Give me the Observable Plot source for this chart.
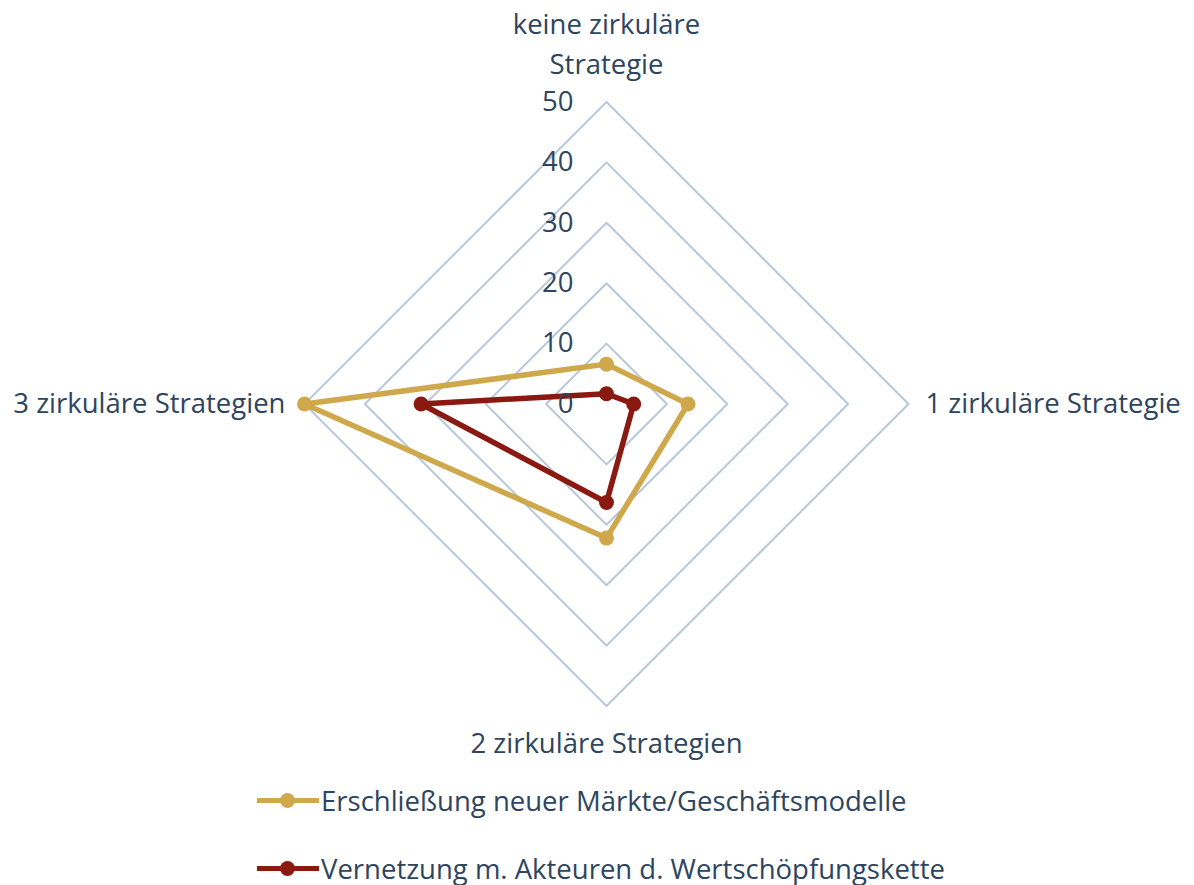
<!DOCTYPE html>
<html>
<head>
<meta charset="utf-8">
<script src="https://cdn.jsdelivr.net/npm/d3@7"></script>
<script src="https://cdn.jsdelivr.net/npm/@observablehq/plot@0.6"></script>
<style>
  body { margin: 0; background: #fff; font-family: "Open Sans", Lato, sans-serif; }
  #chart svg { display: block; }
  #legend { width: 1194px; padding-top: 13px; }
  .item { display: flex; align-items: center; height: 34px; margin-bottom: 34px; margin-left: 257px; font-size: 27.5px; color: #2d4560; white-space: nowrap; }
  .sw { position: relative; flex: none; width: 62px; height: 24px; margin-right: 2px; }
  .sw .ln { position: absolute; left: 0; right: 0; top: 9.5px; height: 5px; }
  .sw .dt { position: absolute; left: 23px; top: 4.5px; width: 15px; height: 15px; border-radius: 50%; }
</style>
</head>
<body>
<div id="chart"></div>
<div id="legend"></div>
<script>
const categories = ["keine zirkuläre\nStrategie", "1 zirkuläre Strategie", "2 zirkuläre Strategien", "3 zirkuläre Strategien"];
const seriesNames = ["Erschließung neuer Märkte/Geschäftsmodelle", "Vernetzung m. Akteuren d. Wertschöpfungskette"];
const erschliessung = [6.6, 13.5, 22.2, 50];
const vernetzung = [1.7, 4.5, 16.3, 30.7];
const tickValues = [0, 10, 20, 30, 40, 50];
const colors = ["#cfa84c", "#8a1a11"];
const textColor = "#2d4560";
const gridColor = "#b6c8da";

const maxV = 50;
const angle = i => i * Math.PI / 2;
const px = (v, i) => v * Math.sin(angle(i));
const py = (v, i) => v * Math.cos(angle(i));

const gridData = tickValues.filter(t => t > 0).flatMap(t => categories.map((c, i) => ({t, x: px(t, i), y: py(t, i)})));
const seriesData = [erschliessung, vernetzung].flatMap((vals, s) =>
  vals.map((v, i) => ({series: seriesNames[s], x: px(v, i), y: py(v, i)})));
const catData = categories.map((c, i) => ({c, i, x: px(maxV, i), y: py(maxV, i)}));
const tickData = tickValues.map(t => ({t, x: 0, y: t}));
const fs = 27.5;

const chart = Plot.plot({
  width: 1194,
  height: 770,
  marginLeft: 304,
  marginRight: 286,
  marginTop: 101.5,
  marginBottom: 64.5,
  x: {domain: [-maxV, maxV], axis: null},
  y: {domain: [-maxV, maxV], axis: null},
  color: {domain: seriesNames, range: colors},
  style: {fontFamily: "'Open Sans', Lato, sans-serif", background: "#fff", overflow: "visible"},
  marks: [
    Plot.line(gridData, {x: "x", y: "y", z: "t", curve: "linear-closed", stroke: gridColor, strokeWidth: 2}),
    Plot.line(seriesData, {x: "x", y: "y", z: "series", stroke: "series", curve: "linear-closed", strokeWidth: 5.5, strokeLinejoin: "round"}),
    Plot.dot(seriesData, {x: "x", y: "y", fill: "series", r: 7.5}),
    Plot.text(tickData, {x: "x", y: "y", text: d => String(d.t), textAnchor: "end", dx: -33, fontSize: fs, fill: textColor}),
    Plot.text(catData.filter(d => d.i === 0), {x: "x", y: "y", text: "c", dy: -28, lineAnchor: "bottom", lineHeight: 1.45, fontSize: fs, fill: textColor}),
    Plot.text(catData.filter(d => d.i === 1), {x: "x", y: "y", text: "c", dx: 17, textAnchor: "start", fontSize: fs, fill: textColor}),
    Plot.text(catData.filter(d => d.i === 2), {x: "x", y: "y", text: "c", dy: 38, fontSize: fs, fill: textColor}),
    Plot.text(catData.filter(d => d.i === 3), {x: "x", y: "y", text: "c", dx: -19, textAnchor: "end", fontSize: fs, fill: textColor})
  ]
});
document.getElementById("chart").appendChild(chart);

const legend = document.getElementById("legend");
seriesNames.forEach((name, s) => {
  const item = document.createElement("div");
  item.className = "item";
  const sw = document.createElement("div");
  sw.className = "sw";
  const ln = document.createElement("div");
  ln.className = "ln";
  ln.style.background = colors[s];
  const dt = document.createElement("div");
  dt.className = "dt";
  dt.style.background = colors[s];
  sw.appendChild(ln);
  sw.appendChild(dt);
  const label = document.createElement("span");
  label.textContent = name;
  item.appendChild(sw);
  item.appendChild(label);
  legend.appendChild(item);
});
</script>
</body>
</html>
